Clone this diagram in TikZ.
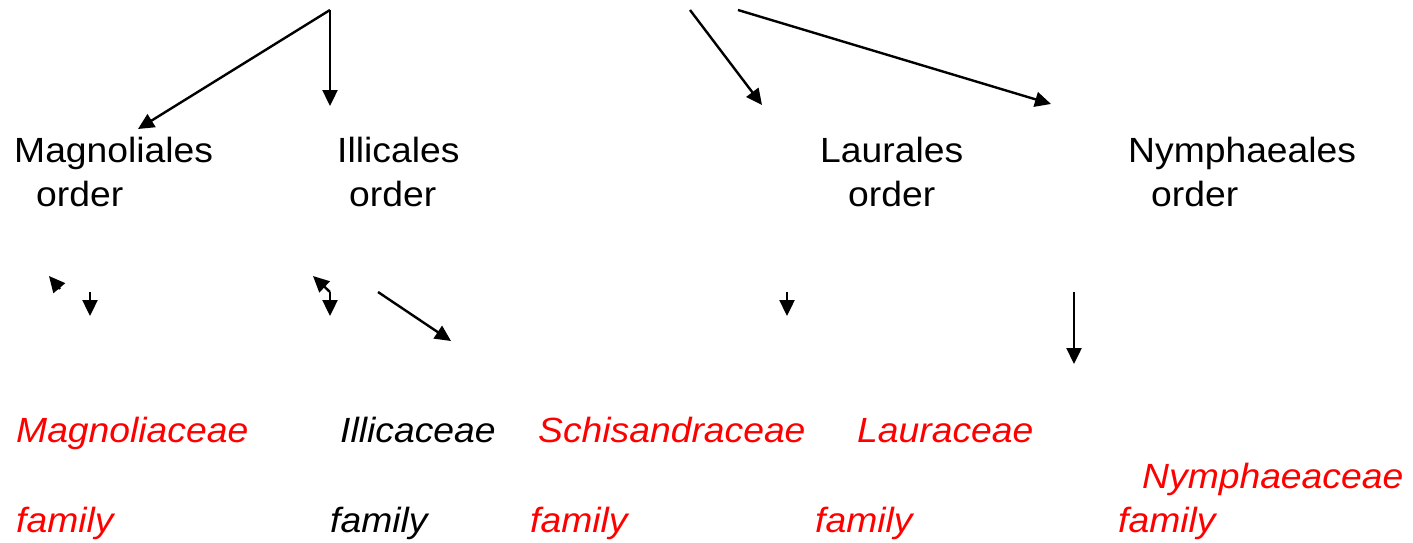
\documentclass[tikz,border=0pt]{standalone}
\usepackage{fontspec}
\setmainfont[FakeStretch=1.065]{Liberation Sans}
\usetikzlibrary{arrows.meta}
\begin{document}
\begin{tikzpicture}[x=1pt,y=-1pt,
  lbl/.style={anchor=base west,inner sep=0pt,font=\fontsize{35}{42}\selectfont},
  fam/.style={lbl,font=\fontsize{35}{42}\selectfont\itshape,text=red},
  famk/.style={lbl,font=\fontsize{35}{42}\selectfont\itshape,text=black},
  arr/.style={line width=2.4pt,-{Triangle[length=16pt,width=15pt]}}]
\useasboundingbox (0,0) rectangle (1413,543);
% order labels
\node[lbl] (mag) at (14,162) {Magnoliales};
\node[lbl] (mago) at (36,206) {order};
\node[lbl] (ill) at (337,162) {Illicales};
\node[lbl] (illo) at (349,206) {order};
\node[lbl] (lau) at (820,162) {Laurales};
\node[lbl] (lauo) at (848,206) {order};
\node[lbl] (nym) at (1128,162) {Nymphaeales};
\node[lbl] (nymo) at (1151,206) {order};
% family labels
\node[fam] (magf) at (16,442) {Magnoliaceae};
\node[famk] (illf) at (340,442) {Illicaceae};
\node[fam] (schf) at (538,442) {Schisandraceae};
\node[fam] (lauf) at (857,442) {Lauraceae};
\node[fam] (nymf) at (1142,488) {Nymphaeaceae};
\node[fam] (f1) at (16,532) {family};
\node[famk] (f2) at (330,532) {family};
\node[fam] (f3) at (530,532) {family};
\node[fam] (f4) at (815,532) {family};
\node[fam] (f5) at (1118,532) {family};
% connector points
\coordinate (t1) at (330,10);
\coordinate (t2) at (690,10);
\coordinate (t3) at (738,10);
\coordinate (e1) at (138,129);
\coordinate (e2) at (330,106);
\coordinate (e3) at (762,105);
\coordinate (e4) at (1051,104);
\draw[arr] (t1) -- (e1);
\draw[arr] (t1) -- (e2);
\draw[arr] (t2) -- (e3);
\draw[arr] (t3) -- (e4);
% small arrows
\coordinate (m0) at (60,289);
\coordinate (m1) at (49,276);
\coordinate (m2) at (90,292);
\coordinate (m3) at (90,316);
\draw[arr] (m0) -- (m1);
\draw[arr] (m2) -- (m3);
\coordinate (i0) at (330,292);
\coordinate (i1) at (313,276);
\coordinate (i2) at (330,316);
\draw[arr] (i0) -- (i1);
\draw[arr] (i0) -- (i2);
\coordinate (i3) at (378,292);
\coordinate (i4) at (451,341);
\draw[arr] (i3) -- (i4);
\coordinate (l0) at (787,292);
\coordinate (l1) at (787,316);
\draw[arr] (l0) -- (l1);
\coordinate (n0) at (1074,292);
\coordinate (n1) at (1074,364);
\draw[arr] (n0) -- (n1);
\end{tikzpicture}
\end{document}
